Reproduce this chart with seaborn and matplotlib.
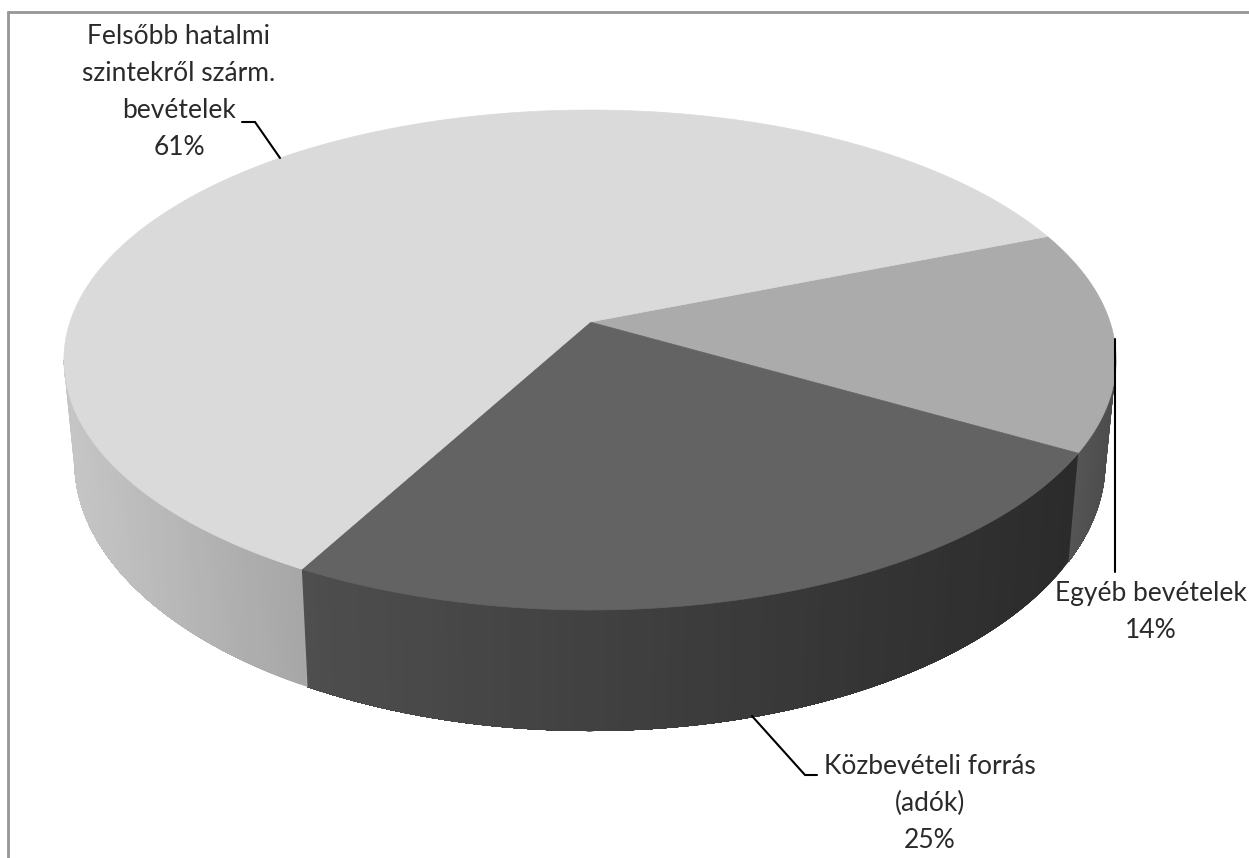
import numpy as np
import matplotlib
matplotlib.use("Agg")
import matplotlib.pyplot as plt
import seaborn as sns

# Data
categories = ["Egyéb bevételek", "Közbevételi forrás\n(adók)", "Felsőbb hatalmi\nszintekről szárm.\nbevételek"]
shares = [14.3, 24.7, 61.0]
top_colors = ["#ababab", "#636363", "#dadada"]
side_left = ["#555555", "#4e4e4e", "#c6c6c6"]
side_right = ["#4c4c4c", "#2b2b2b", "#a6a6a6"]
label_pos = [(1151, 592), (930, 765), (179, 35)]

sns.set_theme(style="white")
plt.rcParams["font.family"] = ["Lato", "DejaVu Sans"]

W, H = 1249, 858
fig = plt.figure(figsize=(W / 100, H / 100), dpi=100, facecolor="white")
ax = fig.add_axes([0, 0, 1, 1])
ax.set_xlim(0, W)
ax.set_ylim(H, 0)
ax.axis("off")

# perspective model of the pie disc
CX, CY, A, C, K = 590.0, 322.0, 520.0, 244.2, 0.152
DROP, SX, SY = 98.6, 0.98, 1.078
START = 21.7
SIL = np.degrees(np.arcsin(K))


def project(theta, bottom=False):
    t = np.radians(theta)
    d = 1 + K * np.sin(t)
    x = A * np.cos(t) / d
    y = -C * np.sin(t) / d
    if bottom:
        return CX + SX * x, CY + DROP + SY * y
    return CX + x, CY + y


edges = START - np.cumsum([0] + shares) * 3.6

# sides: overlapping strips, each drawn over the last, so no seams show
for i in range(3):
    a0 = min(edges[i], -SIL)
    a1 = max(edges[i + 1], -180 + SIL)
    if a0 <= a1:
        continue
    th = np.linspace(a0, a1, 60)
    xt, yt = project(th)
    xb, yb = project(th, True)
    xmin, xmax = xt.min(), xt.max()
    cl = np.array(matplotlib.colors.to_rgb(side_left[i]))
    cr = np.array(matplotlib.colors.to_rgb(side_right[i]))
    for j in range(len(th) - 1):
        f = ((xt[j] + xt[j + 1]) / 2 - xmin) / (xmax - xmin)
        c = cl + (cr - cl) * f
        xa = np.r_[xt[j:], xb[j:][::-1]]
        ya = np.r_[yt[j:], yb[j:][::-1]]
        ax.fill(xa, ya, facecolor=c, edgecolor="none", linewidth=0, zorder=2 + i * 0.01)

# top faces
for i in range(3):
    th = np.linspace(edges[i], edges[i + 1], 200)
    x, y = project(th)
    ax.fill(np.r_[CX, x], np.r_[CY, y], facecolor=top_colors[i], edgecolor=top_colors[i],
            linewidth=0.5, zorder=3)

# labels
for cat, s, (x, y) in zip(categories, shares, label_pos):
    ax.text(x, y - 11, f"{cat}\n{round(s)}%", ha="center", va="top",
            fontsize=19, color="#2a2a2a", linespacing=1.6, zorder=6)

# leader lines
for xs, ys in [((242, 255, 280), (122, 122, 158)),
               ((752, 805, 817), (716, 775, 775)),
               ((1115, 1115), (339, 572))]:
    ax.plot(xs, ys, color="black", lw=1.5, solid_joinstyle="miter", zorder=5)

# frame
ax.plot([8, 8], [H, 12], color="#969696", lw=2, zorder=1, solid_joinstyle="miter")
ax.plot([8, W], [12, 12], color="#969696", lw=2, zorder=1)

fig.savefig("out.png", dpi=100)
